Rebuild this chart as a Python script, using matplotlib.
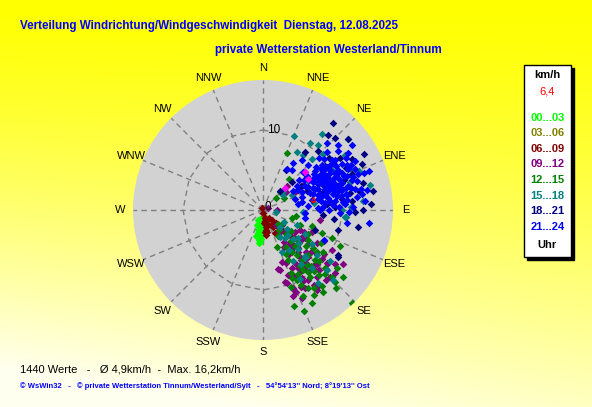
import numpy as np
import matplotlib
matplotlib.use("Agg")
import matplotlib.pyplot as plt
from matplotlib.patches import Rectangle

plt.rcParams['font.family'] = ['Liberation Sans', 'DejaVu Sans']

# wind points per time slot: [direction deg, speed km/h]
pts_00_03 = [[207, 1.4], [194, 2.6], [188, 3.8], [188, 1.9], [182, 3.1], [185, 4.0], [187, 1.0],
             [202, 2.0], [190, 2.3], [185, 2.8], [195, 3.4], [183, 3.6], [190, 1.5], [198, 1.2],
             [186, 4.2], [192, 3.0], [180, 2.0], [184, 1.3]]
pts_03_06 = [[170, 1.2], [165, 1.8], [175, 0.8], [160, 1.5]]
pts_06_09 = [[180, 0.4], [166, 1.0], [176, 1.6], [170, 2.2], [170, 2.8], [138, 1.7], [142, 2.05],
             [139, 2.8], [135, 3.9], [133, 4.6], [152, 3.2], [333, 0.3], [175, 2.8], [143, 6.0],
             [168, 1.4], [172, 2.5], [145, 1.2], [136, 3.4], [134, 4.2], [140, 5.2], [173, 3.2],
             [160, 2.0], [150, 2.4], [137, 2.3]]
pts_09_12 = [[128, 3.0], [135, 4.4], [139, 5.6], [140, 6.8], [153, 8.1], [159, 10.4], [164, 7.8],
             [159, 8.7], [162, 9.6], [146, 11.3], [141, 10.8], [131, 12.0], [124, 12.1], [130, 10.4],
             [137, 9.4], [138, 8.0], [125, 4.9], [128, 6.0], [100, 7.2], [114, 6.7], [58, 5.9],
             [166, 7.6], [160, 6.9], [146, 12.1], [133, 10.8], [137, 6.5], [144, 8.2], [129, 10.5],
             [139, 9.9], [136, 8.1], [118, 5.3], [124, 6.3], [135, 11.9], [163, 9.4], [159, 10.6],
             [142, 7.3], [145, 9.0], [150, 9.8], [148, 7.9], [143, 5.5], [132, 5.2], [136, 6.2],
             [141, 8.5], [147, 10.4], [152, 11.1], [155, 9.1], [157, 7.2], [150, 6.4], [134, 7.5],
             [129, 8.6], [126, 9.4], [122, 7.9], [119, 5.8], [133, 3.8], [146, 4.8], [139, 2.5],
             [144, 3.5], [151, 5.3], [154, 10.7], [161, 11.4], [156, 12.0], [138, 11.7], [127, 11.2],
             [120, 10.0], [117, 8.6], [68, 0.7], [90, 1.75], [60, 4.6], [45, 4.2], [52, 3.6],
             [140, 6.0], [143, 7.8], [148, 9.0], [151, 10.2], [135, 9.6], [131, 8.0], [127, 7.0],
             [123, 6.0], [145, 11.8], [158, 11.0], [153, 9.5], [149, 8.4], [137, 10.3], [142, 9.5],
             [130, 9.6]]
pts_12_15 = [[159, 4.9], [124, 6.8], [127, 7.8], [125, 9.1], [112, 9.3], [134, 9.0], [141, 8.8],
             [154, 9.7], [150, 11.2], [136, 11.2], [130, 13.1], [152, 13.1], [158, 13.6], [136, 16.1],
             [23, 7.7], [123, 3.0], [105, 3.75], [112, 5.0], [111, 7.9], [135, 12.7], [43, 3.1],
             [138, 6.0], [143, 7.0], [147, 8.4], [145, 10.2], [140, 10.0], [133, 10.6], [128, 11.7],
             [120, 8.3], [118, 6.3], [131, 5.5], [136, 4.2], [141, 3.2], [148, 5.5], [153, 7.0],
             [156, 8.6], [160, 10.2], [149, 12.4], [142, 12.0], [137, 13.4], [155, 11.8], [162, 12.6],
             [130, 7.0], [135, 8.0], [139, 9.2], [144, 9.6], [151, 9.1], [146, 6.4], [126, 4.4],
             [133, 2.5], [150, 3.8], [115, 10.6], [108, 6.5], [100, 4.2], [60, 3.0], [40, 5.0],
             [48, 2.2], [142, 8.0], [146, 9.0], [139, 10.7], [132, 9.5], [128, 8.5], [147, 11.6],
             [153, 10.5], [157, 9.3], [144, 12.7], [134, 12.0], [138, 5.2], [152, 6.2]]
pts_15_18 = [[23, 10.0], [35, 10.2], [40, 10.6], [50, 13.8], [56, 12.4], [36, 8.5], [47, 10.2],
             [53, 3.1], [77, 13.7], [85, 12.5], [95, 10.3], [46, 3.4], [93, 5.0], [65, 12.2],
             [72, 11.5], [44, 8.8], [60, 9.9], [38, 12.0], [30, 8.4], [88, 11.0], [63, 4.0],
             [68, 13.0], [82, 6.5], [57, 6.7], [156, 5.8], [128, 3.8], [134, 5.2], [138, 6.5],
             [114, 4.6], [100, 1.6], [90, 9.9], [95, 10.4], [133, 11.0], [135, 12.3], [142, 4.4],
             [147, 6.0], [150, 7.4], [125, 7.5], [130, 8.8], [140, 9.5], [145, 8.2], [120, 6.0],
             [136, 3.0], [152, 9.8], [127, 10.5], [143, 11.5], [138, 7.8], [132, 6.1], [148, 4.0],
             [119, 3.0], [135, 4.4], [129, 5.6], [139, 8.0]]
pts_18_21 = [[41, 12.4], [45, 12.8], [61, 14.5], [30, 5.8], [42, 3.2], [46, 5.0], [82, 10.0],
             [79, 11.1], [79, 12.2], [88, 9.0], [50, 13.9], [39, 14.0], [91, 11.5], [105, 9.7],
             [122, 11.0], [90, 12.5], [121, 10.9], [55, 9.5], [63, 11.7], [70, 10.8], [75, 12.9],
             [58, 7.5], [67, 6.0], [48, 7.1], [52, 10.5], [85, 8.0], [95, 7.5], [100, 12.0],
             [87, 13.5], [65, 13.6], [36, 9.0], [43, 10.0], [73, 7.8], [60, 12.8], [80, 14.0],
             [111, 7.0], [97, 9.0], [57, 5.6], [84, 11.2], [69, 9.3], [62, 8.8], [74, 10.2],
             [56, 11.6], [68, 12.0]]
pts_21_24 = [[52, 7.0], [55, 7.8], [58, 8.5], [61, 7.2], [64, 9.0], [67, 8.1], [70, 9.6], [73, 8.8],
             [76, 10.2], [79, 9.4], [53, 9.3], [56, 10.1], [59, 9.8], [62, 10.6], [65, 10.9],
             [68, 11.3], [71, 10.4], [74, 11.1], [77, 7.6], [80, 8.3], [54, 6.4], [57, 6.9], [60, 6.1],
             [63, 7.9], [66, 6.8], [69, 7.4], [72, 6.6], [75, 7.1], [78, 6.2], [81, 7.3], [51, 8.6],
             [57, 9.1], [62, 8.4], [66, 9.7], [69, 8.7], [72, 10.0], [75, 9.2], [64, 11.8], [70, 12.0],
             [60, 11.4], [55, 11.0], [58, 12.2], [66, 12.6], [73, 12.3], [77, 11.8], [80, 10.7],
             [83, 9.1], [84, 7.8], [86, 10.3], [82, 11.9], [45, 8.0], [47, 9.5], [48, 10.8],
             [44, 11.6], [49, 12.4], [46, 6.9], [50, 5.8], [54, 5.2], [60, 5.0], [66, 5.4], [72, 5.1],
             [78, 5.0], [85, 5.6], [88, 6.9], [90, 8.2], [92, 9.6], [88, 11.2], [85, 12.8], [79, 13.2],
             [70, 13.4], [62, 13.0], [54, 13.8], [58, 4.4], [70, 4.2], [81, 4.4], [94, 5.3],
             [101, 5.3], [97, 13.4], [70, 14.1], [99, 10.6], [116, 8.5], [90, 7.1], [63, 6.3],
             [76, 8.0], [68, 10.2], [61, 9.4], [57, 10.6], [74, 9.9], [65, 7.6], [30, 5.9], [33, 7.0],
             [36, 6.2], [38, 8.0], [59, 7.9], [71, 8.2], [67, 9.2], [63, 10.1], [74, 7.4],
             [53, 8.2], [56, 9.6], [59, 10.7], [62, 11.9], [65, 8.3], [68, 7.0], [71, 11.7],
             [74, 8.3], [77, 9.0], [80, 9.9], [83, 10.6], [86, 8.8], [54, 10.6], [58, 7.3], [61, 8.9],
             [64, 10.3], [67, 11.0], [70, 6.3], [73, 9.5], [76, 11.4], [79, 7.0], [82, 8.5],
             [52, 11.9], [56, 12.8], [63, 12.4], [69, 12.7], [75, 10.7], [78, 12.5], [81, 12.5],
             [84, 10.0], [50, 10.0], [55, 8.9], [60, 8.0], [66, 8.6], [71, 9.0], [76, 9.6],
             [79, 10.6], [88, 9.5], [91, 10.8], [87, 7.5]]
pts_pink = [[48, 7.1], [55, 6.8], [45, 3.9]]

mean_dir, mean_spd = 78, 6.4
slot_labels = ['00...03', '03...06', '06...09', '09...12', '12...15', '15...18', '18...21', '21...24']
slot_colors = ['#00FF00', '#808000', '#800000', '#800080', '#008000', '#008080', '#000080', '#0000FF']
slot_points = [pts_00_03, pts_03_06, pts_06_09, pts_09_12, pts_12_15, pts_15_18, pts_18_21, pts_21_24]
compass = ['N', 'NNE', 'NE', 'ENE', 'E', 'ESE', 'SE', 'SSE',
           'S', 'SSW', 'SW', 'WSW', 'W', 'WNW', 'NW', 'NNW']
r_max = 16.25

W, H = 592, 407
fig = plt.figure(figsize=(W / 100, H / 100), dpi=100)


def px(x, y):
    return x / W, 1 - y / H


# yellow gradient background
bg = fig.add_axes([0, 0, 1, 1])
yy, xx = np.mgrid[0:1:200j, 0:1:200j]
t = np.clip(0.85 * yy + 0.25 * yy * (1 - xx), 0, 1) ** 1.3
img = np.dstack([np.ones_like(t), np.ones_like(t), t * 0.94])
bg.imshow(img, extent=[0, 1, 0, 1], aspect='auto', origin='upper')
bg.axis('off')

# polar plot
cx, cy, rad = 263, 210, 130
ax = fig.add_axes([(cx - rad) / W, (H - cy - rad) / H, 2 * rad / W, 2 * rad / H], projection='polar')
ax.set_theta_zero_location('N')
ax.set_theta_direction(-1)
ax.set_ylim(0, r_max)
ax.set_facecolor('#D2D2D2')
ax.grid(False)
ax.set_xticks([])
ax.set_yticks([])
ax.spines['polar'].set_visible(False)

spoke_th = np.deg2rad(np.arange(16) * 22.5)
for th in spoke_th:
    ax.plot([th, th], [0, r_max], color='#808080', lw=1, ls=(0, (4, 3)), zorder=1)
ring_th = np.append(spoke_th, spoke_th[0])
ax.plot(ring_th, [10] * len(ring_th), color='#808080', lw=1, ls=(0, (4, 3)), zorder=1)

for pts, col in zip(slot_points, slot_colors):
    a = np.array(pts, dtype=float)
    ax.scatter(np.deg2rad(a[:, 0]), a[:, 1], marker='D', s=15, color=col, lw=0, zorder=3)
a = np.array(pts_pink, dtype=float)
ax.scatter(np.deg2rad(a[:, 0]), a[:, 1], marker='D', s=15, color='#FF00FF', lw=0, zorder=4)
ax.plot([np.deg2rad(mean_dir)], [mean_spd], marker='^', ms=3, mfc='none', mec='red', mew=0.8, zorder=5)

ax.text(0.05, 10, '10', fontsize=8.5, ha='left', va='center', zorder=6)
ax.text(0.6, 0.4, '0', fontsize=8.5, ha='left', va='center', zorder=6)

for th, lab in zip(spoke_th, compass):
    ax.text(th, 17.8, lab, fontsize=8, ha='center', va='center', clip_on=False)

# titles
fig.text(*px(20, 26), 'Verteilung Windrichtung/Windgeschwindigkeit  Dienstag, 12.08.2025',
         color='#0000FF', fontsize=8.4, fontweight='bold', va='center', ha='left')
fig.text(*px(215, 50), 'private Wetterstation Westerland/Tinnum',
         color='#0000FF', fontsize=8.4, fontweight='bold', va='center', ha='left')

# legend box
bx0, by0, bx1, by1 = 524, 65, 571, 257
fig.patches.append(Rectangle(px(bx0 + 3, by1 + 3), (bx1 - bx0) / W, (by1 - by0) / H,
                             transform=fig.transFigure, facecolor='black', edgecolor='black'))
fig.patches.append(Rectangle(px(bx0, by1), (bx1 - bx0) / W, (by1 - by0) / H,
                             transform=fig.transFigure, facecolor='white', edgecolor='black', lw=1))
lx = 547.5
fig.text(*px(lx, 75), 'km/h', fontsize=8, fontweight='bold', ha='center', va='center')
fig.text(*px(lx, 91), '6,4', fontsize=8, color='red', ha='center', va='center')
for i, (lab, col) in enumerate(zip(slot_labels, slot_colors)):
    fig.text(*px(lx, 118 + i * 15.5), lab, fontsize=8, fontweight='bold', color=col,
             ha='center', va='center')
fig.text(*px(lx, 245), 'Uhr', fontsize=8, fontweight='bold', ha='center', va='center')

# footer
fig.text(*px(20, 369), '1440 Werte   -   Ø 4,9km/h  -  Max. 16,2km/h', fontsize=8,
         ha='left', va='center')
fig.text(*px(20, 386), "© WsWin32   -   © private Wetterstation Tinnum/Westerland/Sylt   -   "
         "54°54'13'' Nord; 8°19'13'' Ost", fontsize=5.5, fontweight='bold', color='#0000FF',
         ha='left', va='center')

fig.savefig('out.png', dpi=100)
